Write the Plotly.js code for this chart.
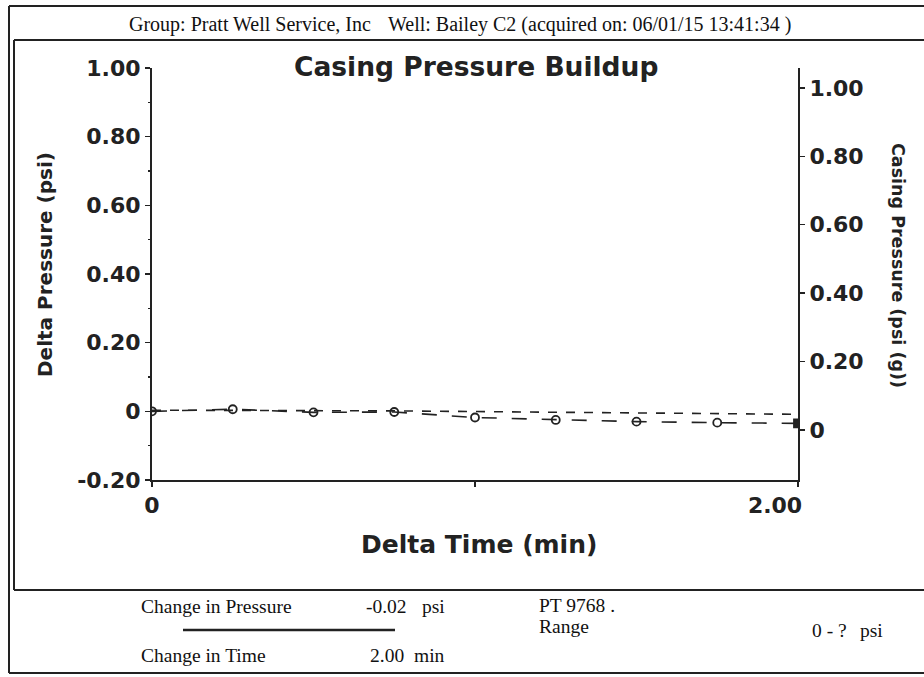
<!DOCTYPE html>
<html>
<head>
<meta charset="utf-8">
<script src="https://cdn.plot.ly/plotly-3.0.1.min.js"></script>
<style>html,body{margin:0;padding:0;background:#fff;}#chart{width:924px;height:677px;}</style>
</head>
<body>
<div id="chart"></div>
<script>
// ---- data ----
const deltaTimeMin = [0, 0.25, 0.5, 0.75, 1.0, 1.25, 1.5, 1.75, 2.0];
const deltaPressurePsi = [0, 0.006, -0.003, -0.002, -0.018, -0.025, -0.030, -0.033, -0.035];
const casingPressurePsiG = [0.058, 0.058, 0.057, 0.056, 0.054, 0.052, 0.050, 0.048, 0.046];
const leftTickVals = [-0.2, 0, 0.2, 0.4, 0.6, 0.8, 1.0];
const leftTickText = ["-0.20", "0", "0.20", "0.40", "0.60", "0.80", "1.00"];
const rightTickVals = [0, 0.2, 0.4, 0.6, 0.8, 1.0];
const rightTickText = ["0", "0.20", "0.40", "0.60", "0.80", "1.00"];
const xTickVals = [0, 1, 2];
const xTickText = ["0", "", "2.00\u00a0\u00a0\u00a0\u00a0\u00a0\u00a0"];
const headerGroup = "Group: Pratt Well Service, Inc";
const headerWell = "Well: Bailey C2 (acquired on: 06/01/15 13:41:34 )";

// ---- geometry helpers (pixel -> paper) ----
const L = 152, R = 798, T = 68, B = 480;
const W = R - L, H = B - T;
const fx = px => (px - L) / W;
const fy = py => (B - py) / H;

const serif = {family: "Liberation Serif, Times New Roman, serif", size: 19.5, color: "#111"};
const headerFont = {family: "Liberation Serif, Times New Roman, serif", size: 20, color: "#111"};
const tickFont = {family: "DejaVu Sans, Arial, sans-serif", size: 22, color: "#222", weight: "bold"};
const sansFam = "DejaVu Sans, Arial, sans-serif";

function ann(text, px, py, xanchor, font, extra) {
  return Object.assign({text: text, x: fx(px), y: fy(py), xref: "paper", yref: "paper",
    xanchor: xanchor, yanchor: "middle", showarrow: false, font: font}, extra || {});
}
function hline(x0, x1, y, w) {
  return {type: "line", xref: "paper", yref: "paper", x0: fx(x0), x1: fx(x1), y0: fy(y), y1: fy(y),
    line: {color: "#222", width: w || 2}};
}
function vline(x, y0, y1, w) {
  return {type: "line", xref: "paper", yref: "paper", x0: fx(x), x1: fx(x), y0: fy(y0), y1: fy(y1),
    line: {color: "#222", width: w || 2}};
}

const symbols = deltaTimeMin.map((t, i) => i === deltaTimeMin.length - 1 ? "square" : "circle-open");

const traces = [
  {
    x: deltaTimeMin, y: casingPressurePsiG, yaxis: "y2", mode: "lines",
    line: {color: "#222", width: 1.6, dash: "dash"}, hoverinfo: "skip"
  },
  {
    x: deltaTimeMin, y: deltaPressurePsi, mode: "lines+markers",
    line: {color: "#222", width: 1.6, dash: "longdash"},
    marker: {symbol: symbols, size: 8, color: "#222", line: {color: "#222", width: 1.8}},
    hoverinfo: "skip"
  }
];

const layout = {
  width: 924, height: 677,
  margin: {l: L, r: 924 - R, t: T, b: 677 - B, pad: 0},
  paper_bgcolor: "#fff", plot_bgcolor: "#fff",
  showlegend: false,
  xaxis: {
    range: [0, 2], tickvals: xTickVals, ticktext: xTickText,
    showline: true, linecolor: "#222", linewidth: 2, mirror: false,
    ticks: "outside", ticklen: 5, tickcolor: "#222", tickwidth: 1.5,
    showgrid: false, zeroline: false,
    tickfont: tickFont
  },
  yaxis: {
    range: [-0.2, 1.0], tickvals: leftTickVals, ticktext: leftTickText,
    showline: true, linecolor: "#222", linewidth: 2,
    ticks: "outside", ticklen: 5, tickcolor: "#222", tickwidth: 1.5,
    minor: {dtick: 0.1, ticks: "outside", ticklen: 2, tickcolor: "#222"},
    showgrid: false, zeroline: false,
    tickfont: tickFont
  },
  yaxis2: {
    overlaying: "y", side: "right",
    range: [-0.146, 1.058], tickvals: rightTickVals, ticktext: rightTickText,
    showline: true, linecolor: "#222", linewidth: 2,
    ticks: "outside", ticklen: 5, tickcolor: "#222", tickwidth: 1.5,
    showgrid: false, zeroline: false,
    tickfont: tickFont
  },
  annotations: [
    ann(headerGroup, 127, 25, "left", headerFont),
    ann(headerWell, 386, 25, "left", headerFont),
    ann("<b>Casing Pressure Buildup</b>", 476, 66, "center", {family: sansFam, size: 26.5, color: "#222"}),
    ann("<b>Delta Time (min)</b>", 479, 544, "center", {family: sansFam, size: 25, color: "#222"}),
    ann("<b>Delta Pressure (psi)</b>", 45, 265, "center", {family: sansFam, size: 20, color: "#222"}, {textangle: -90}),
    ann("<b>Casing Pressure (psi (g))</b>", 898, 265, "center", {family: sansFam, size: 17.5, color: "#222"}, {textangle: 90}),
    ann("Change in Pressure", 139, 606, "left", serif),
    ann("-0.02", 364, 606, "left", serif),
    ann("psi", 420, 606, "left", serif),
    ann("Change in Time", 139, 655, "left", serif),
    ann("2.00", 368, 655, "left", serif),
    ann("min", 412, 655, "left", serif),
    ann("PT 9768 .", 537, 605, "left", serif),
    ann("Range", 537, 626, "left", serif),
    ann("0 - ?", 810, 630, "left", serif),
    ann("psi", 858, 630, "left", serif)
  ],
  shapes: [
    hline(9, 924, 6),
    vline(9, 6, 673),
    hline(9, 924, 673),
    hline(14, 924, 40),
    vline(14, 40, 590),
    hline(14, 924, 590),
    hline(183, 395, 630, 2.5)
  ]
};

Plotly.newPlot("chart", traces, layout, {displayModeBar: false, staticPlot: true});
</script>
</body>
</html>
